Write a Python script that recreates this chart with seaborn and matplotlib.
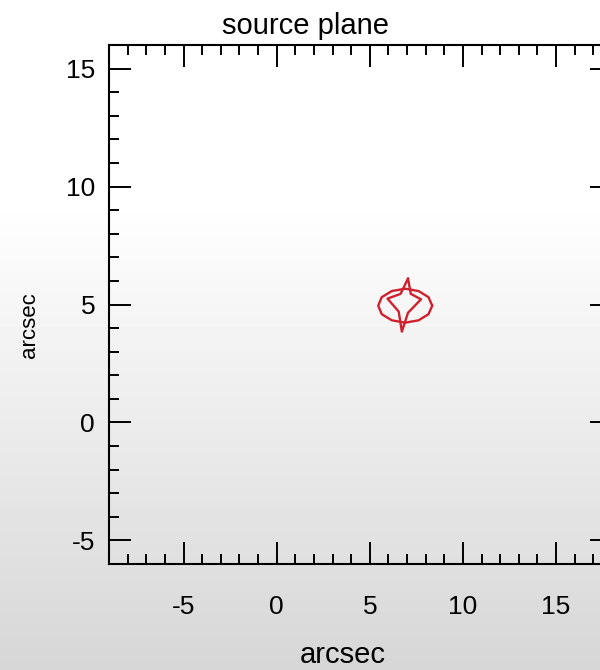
import numpy as np
import pandas as pd
import matplotlib
matplotlib.use("Agg")
import matplotlib.pyplot as plt
import seaborn as sns

# ---- data ----
ellipse_x = [8.35, 8.15, 7.62, 6.90, 6.18, 5.64, 5.45, 5.64, 6.18, 6.90, 7.62, 8.15, 8.35]
ellipse_y = [4.95, 5.31, 5.57, 5.67, 5.57, 5.31, 4.95, 4.59, 4.33, 4.23, 4.33, 4.59, 4.95]
caustic_x = [7.05, 7.20, 7.75, 7.05, 6.72, 6.55, 5.95, 6.65, 7.05]
caustic_y = [6.10, 5.45, 5.22, 4.65, 3.85, 4.70, 5.25, 5.45, 6.10]

x_ticks = [-5, 0, 5, 10, 15]
y_ticks = [-5, 0, 5, 10, 15]
x_range = [-9.0, 18.0]
y_range = [-6.0, 16.0]

sns.set_theme(style="white")
plt.rcParams["font.family"] = ["Liberation Sans", "DejaVu Sans"]

fig = plt.figure(figsize=(6.0, 6.7), dpi=100)

# background gradient (white top -> light grey bottom)
bg = fig.add_axes([0, 0, 1, 1], zorder=-10)
rows = np.linspace(0, 1, 670)
shade = np.where(rows < 0.30, 1.0, 1.0 - (rows - 0.30) / 0.70 * 0.16)
img = np.repeat(shade[:, None], 10, axis=1)
bg.imshow(img, cmap="gray", vmin=0, vmax=1, aspect="auto", extent=[0, 1, 0, 1])
bg.set_axis_off()

ax = fig.add_axes([109 / 600, (670 - 564) / 670, (612 - 109) / 600, (564 - 45) / 670])
ax.set_facecolor("none")

df_e = pd.DataFrame({"x": ellipse_x, "y": ellipse_y})
df_c = pd.DataFrame({"x": caustic_x, "y": caustic_y})
red = "#d0202e"
sns.lineplot(data=df_e, x="x", y="y", sort=False, estimator=None, ax=ax, color=red, lw=1.7)
sns.lineplot(data=df_c, x="x", y="y", sort=False, estimator=None, ax=ax, color=red, lw=1.7)

ax.set_xlim(*x_range)
ax.set_ylim(*y_range)
ax.set_xticks(x_ticks)
ax.set_yticks(y_ticks)
ax.set_xticklabels([str(v) for v in x_ticks])
ax.set_yticklabels([str(v) for v in y_ticks])
ax.xaxis.set_minor_locator(matplotlib.ticker.MultipleLocator(1))
ax.yaxis.set_minor_locator(matplotlib.ticker.MultipleLocator(1))
ax.tick_params(which="both", direction="in", top=True, right=True, bottom=True, left=True,
               colors="black", width=1.4)
ax.tick_params(which="major", length=16, labelsize=19)
ax.tick_params(which="minor", length=7.5)
ax.tick_params(axis="x", which="major", pad=22)
ax.tick_params(axis="y", which="major", pad=10)
for s in ax.spines.values():
    s.set_color("black")
    s.set_linewidth(1.5)
ax.set_xlabel("")
ax.set_ylabel("")

fig.text(305 / 600, 1 - 26 / 670, "source plane", ha="center", va="center", fontsize=21, color="black")
fig.text(343 / 600, 1 - 655 / 670, "arcsec", ha="center", va="center", fontsize=21, color="black")
fig.text(30 / 600, 1 - 325 / 670, "arcsec", ha="center", va="center", fontsize=16, rotation=90, color="black")

fig.savefig("out.png", dpi=100)
